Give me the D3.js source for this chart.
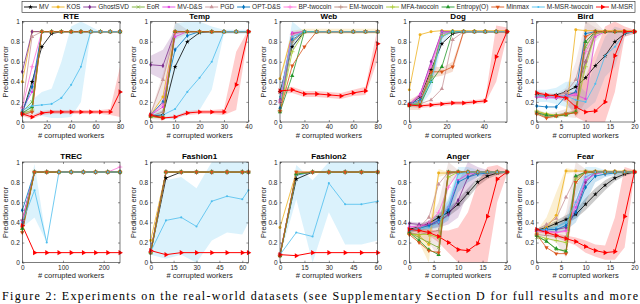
<!DOCTYPE html>
<html><head><meta charset="utf-8">
<script src="https://cdn.jsdelivr.net/npm/d3@7"></script>
<style>body{margin:0;background:#fff}svg{display:block}text{font-family:"Liberation Sans",Arial,Helvetica,sans-serif}</style>
</head><body><svg id="c" width="640" height="304"></svg>
<script>
// ---------- methods ----------
const methods = ["MV","KOS","GhostSVD","EoR","MV-D&S","PGD","OPT-D&S","BP-twocoin","EM-twocoin","MFA-twocoin","Entropy(O)","Minmax","M-MSR-twocoin","M-MSR"];
const methodColors = ["#000000","#EDB120","#7E2F8E","#77AC30","#E046E0","#C8959A","#0072BD","#FF6FD8","#B8867B","#A5C82A","#23962A","#D95319","#4DBEEE","#FF0000"];
const methodMarkers = ["star","circle","diamond","times","square","triangle","diamond","plus","plus","plus","triangle","triangleDown","dot","triangleRight"];
const panelTitles = ["RTE","Temp","Web","Dog","Bird","TREC","Fashion1","Fashion2","Anger","Fear"];
const yTicks = [0,0.2,0.4,0.6,0.8,1];

// ---------- RTE ----------
const rteX = [0,8,16,24,32,40,48,56,64,72,80];
const rteTicks = [0,20,40,60,80];
const rteY = [
 [0.09,0.40,0.75,0.88,0.90,0.90,0.90,0.90,0.90,0.90,0.90],
 [0.40,0.90,0.90,0.90,0.90,0.90,0.90,0.90,0.90,0.90,0.90],
 [0.50,0.90,0.90,0.90,0.90,0.90,0.90,0.90,0.90,0.90,0.90],
 [0.10,0.20,0.90,0.90,0.90,0.90,0.90,0.90,0.90,0.90,0.90],
 [0.12,0.30,0.90,0.90,0.90,0.90,0.90,0.90,0.90,0.90,0.90],
 [0.15,0.85,0.90,0.90,0.90,0.90,0.90,0.90,0.90,0.90,0.90],
 [0.10,0.35,0.90,0.90,0.90,0.90,0.90,0.90,0.90,0.90,0.90],
 [0.14,0.55,0.90,0.90,0.90,0.90,0.90,0.90,0.90,0.90,0.90],
 [0.10,0.10,0.90,0.90,0.90,0.90,0.90,0.90,0.90,0.90,0.90],
 [0.08,0.12,0.90,0.90,0.90,0.90,0.90,0.90,0.90,0.90,0.90],
 [0.09,0.15,0.90,0.90,0.90,0.90,0.90,0.90,0.90,0.90,0.90],
 [0.07,0.10,0.90,0.90,0.90,0.90,0.90,0.90,0.90,0.90,0.90],
 [0.12,0.16,0.17,0.18,0.24,0.37,0.55,0.90,0.90,0.90,0.90],
 [0.08,0.05,0.09,0.10,0.10,0.10,0.10,0.10,0.10,0.10,0.30]
];
const rteBands = [
 [12,[0.06,0.08,0.06,0.04,0.04,0.05,0.20,0.88,0.90,0.90,0.90],[0.18,0.22,0.30,0.33,0.60,0.95,1.00,0.95,0.90,0.90,0.90]],
 [13,[0.06,0.03,0.07,0.08,0.08,0.08,0.08,0.08,0.08,0.07,0.05],[0.10,0.07,0.11,0.12,0.12,0.12,0.12,0.12,0.12,0.13,0.55]]
];

// ---------- Temp ----------
const tempX = [0,5,10,15,20,25,30,35,40];
const tempTicks = [0,10,20,30,40];
const tempY = [
 [0.06,0.07,0.55,0.80,0.89,0.90,0.90,0.90,0.90],
 [0.07,0.25,0.90,0.90,0.90,0.90,0.90,0.90,0.90],
 [0.57,0.56,0.90,0.90,0.90,0.90,0.90,0.90,0.90],
 [0.06,0.05,0.90,0.90,0.90,0.90,0.90,0.90,0.90],
 [0.07,0.15,0.85,0.90,0.90,0.90,0.90,0.90,0.90],
 [0.08,0.42,0.90,0.90,0.90,0.90,0.90,0.90,0.90],
 [0.07,0.20,0.72,0.86,0.90,0.90,0.90,0.90,0.90],
 [0.07,0.18,0.88,0.90,0.90,0.90,0.90,0.90,0.90],
 [0.06,0.10,0.90,0.90,0.90,0.90,0.90,0.90,0.90],
 [0.05,0.05,0.90,0.90,0.90,0.90,0.90,0.90,0.90],
 [0.06,0.04,0.90,0.90,0.90,0.90,0.90,0.90,0.90],
 [0.06,0.04,0.90,0.90,0.90,0.90,0.90,0.90,0.90],
 [0.07,0.07,0.13,0.30,0.44,0.60,0.90,0.90,0.90],
 [0.07,0.04,0.05,0.09,0.10,0.10,0.10,0.37,0.90]
];
const tempBands = [
 [2,[0.48,0.42,0.88,0.90,0.90,0.90,0.90,0.90,0.90],[0.66,0.72,0.92,0.90,0.90,0.90,0.90,0.90,0.90]],
 [8,[0.03,0.02,0.82,0.88,0.90,0.90,0.90,0.90,0.90],[0.10,0.48,1.00,0.92,0.90,0.90,0.90,0.90,0.90]],
 [12,[0.05,0.04,0.02,0.08,0.12,0.32,0.88,0.88,0.88],[0.09,0.12,0.98,1.00,1.00,0.95,0.92,0.92,0.92]],
 [13,[0.05,0.03,0.04,0.07,0.08,0.08,0.07,0.12,0.88],[0.09,0.05,0.06,0.11,0.12,0.12,0.13,0.70,0.92]]
];

// ---------- Web ----------
const webX = [0,10,20,30,40,50,60,70,80];
const webTicks = [0,20,40,60,80];
const webY = [
 [0.30,0.75,0.90,0.90,0.90,0.90,0.90,0.90,0.90],
 [0.43,0.88,0.90,0.90,0.90,0.90,0.90,0.90,0.90],
 [0.22,0.88,0.90,0.90,0.90,0.90,0.90,0.90,0.90],
 [0.12,0.80,0.90,0.90,0.90,0.90,0.90,0.90,0.90],
 [0.22,0.89,0.90,0.90,0.90,0.90,0.90,0.90,0.90],
 [0.20,0.85,0.90,0.90,0.90,0.90,0.90,0.90,0.90],
 [0.14,0.82,0.90,0.90,0.90,0.90,0.90,0.90,0.90],
 [0.20,0.87,0.90,0.90,0.90,0.90,0.90,0.90,0.90],
 [0.11,0.80,0.90,0.90,0.90,0.90,0.90,0.90,0.90],
 [0.11,0.70,0.90,0.90,0.90,0.90,0.90,0.90,0.90],
 [0.10,0.46,0.90,0.90,0.90,0.90,0.90,0.90,0.90],
 [0.11,0.56,0.75,0.90,0.90,0.90,0.90,0.90,0.90],
 [0.25,0.85,0.90,0.90,0.90,0.90,0.90,0.90,0.90],
 [0.31,0.32,0.28,0.28,0.27,0.26,0.29,0.31,0.78]
];
const webBands = [
 [1,[0.40,0.85,0.88,0.88,0.88,0.88,0.88,0.88,0.88],[0.46,0.91,0.93,0.93,0.93,0.93,0.93,0.93,0.93]],
 [12,[0.20,0.72,0.90,0.90,0.90,0.90,0.90,0.90,0.90],[0.30,1.00,0.90,0.90,0.90,0.90,0.90,0.90,0.90]],
 [13,[0.28,0.29,0.25,0.25,0.24,0.23,0.26,0.27,0.62],[0.34,0.35,0.31,0.31,0.30,0.29,0.32,0.35,0.94]]
];

// ---------- Dog ----------
const dogX = [0,5.8,11.7,17.5,23.3,29.2,35,40.8,46.7,52.5];
const dogTicks = [0,20,40];
const dogY = [
 [0.17,0.25,0.52,0.78,0.88,0.90,0.90,0.90,0.90,0.90],
 [0.32,0.87,0.90,0.91,0.91,0.91,0.91,0.91,0.91,0.91],
 [0.17,0.27,0.60,0.90,0.90,0.90,0.90,0.90,0.90,0.90],
 [0.17,0.18,0.45,0.90,0.90,0.90,0.90,0.90,0.90,0.90],
 [0.18,0.28,0.58,0.90,0.90,0.90,0.90,0.90,0.90,0.90],
 [0.17,0.18,0.22,0.33,0.82,0.90,0.90,0.90,0.90,0.90],
 [0.18,0.22,0.45,0.88,0.90,0.90,0.90,0.90,0.90,0.90],
 [0.17,0.26,0.55,0.88,0.90,0.90,0.90,0.90,0.90,0.90],
 [0.17,0.20,0.45,0.85,0.90,0.90,0.90,0.90,0.90,0.90],
 [0.16,0.19,0.45,0.86,0.90,0.90,0.90,0.90,0.90,0.90],
 [0.17,0.17,0.40,0.55,0.90,0.90,0.90,0.90,0.90,0.90],
 [0.17,0.20,0.50,0.50,0.55,0.90,0.90,0.90,0.90,0.90],
 [0.17,0.20,0.40,0.85,0.90,0.90,0.90,0.90,0.90,0.90],
 [0.17,0.16,0.17,0.18,0.19,0.19,0.20,0.21,0.65,0.90]
];
const dogBands = [
 [11,[0.12,0.12,0.44,0.46,0.50,0.88,0.90,0.90,0.90,0.90],[0.22,0.28,0.56,0.54,0.60,0.92,0.90,0.90,0.90,0.90]],
 [12,[0.15,0.15,0.30,0.78,0.90,0.90,0.90,0.90,0.90,0.90],[0.19,0.25,0.52,0.92,0.90,0.90,0.90,0.90,0.90,0.90]],
 [13,[0.15,0.14,0.15,0.16,0.17,0.17,0.18,0.19,0.40,0.86],[0.19,0.18,0.19,0.20,0.21,0.21,0.22,0.23,0.96,0.94]]
];

// ---------- Bird ----------
const birdX = [0,2,4,6,8,10,12,14,16,18,20];
const birdTicks = [0,5,10,15,20];
const birdY = [
 [0.27,0.26,0.27,0.30,0.35,0.44,0.56,0.66,0.80,0.88,0.90],
 [0.10,0.08,0.06,0.07,0.92,0.91,0.91,0.91,0.91,0.91,0.91],
 [0.25,0.25,0.24,0.26,0.29,0.60,0.88,0.90,0.90,0.90,0.90],
 [0.09,0.05,0.06,0.08,0.10,0.75,0.90,0.90,0.90,0.90,0.90],
 [0.25,0.24,0.24,0.25,0.27,0.23,0.85,0.90,0.90,0.90,0.90],
 [0.27,0.26,0.26,0.30,0.42,0.80,0.90,0.90,0.90,0.90,0.90],
 [0.16,0.15,0.15,0.26,0.30,0.88,0.90,0.90,0.90,0.90,0.90],
 [0.25,0.24,0.25,0.26,0.28,0.70,0.88,0.90,0.90,0.90,0.90],
 [0.10,0.06,0.07,0.09,0.11,0.60,0.90,0.90,0.90,0.90,0.90],
 [0.11,0.08,0.07,0.08,0.10,0.55,0.88,0.90,0.90,0.90,0.90],
 [0.09,0.07,0.06,0.07,0.10,0.80,0.90,0.90,0.90,0.90,0.90],
 [0.08,0.04,0.06,0.08,0.09,0.85,0.90,0.90,0.90,0.90,0.90],
 [0.26,0.26,0.26,0.26,0.22,0.20,0.38,0.66,0.75,0.88,0.90],
 [0.29,0.27,0.26,0.24,0.15,0.10,0.11,0.20,0.66,0.90,0.90]
];
const birdBands = [
 [5,[0.25,0.24,0.24,0.26,0.25,0.55,0.86,0.90,0.90,0.90,0.90],[0.29,0.28,0.28,0.34,0.60,1.00,0.94,0.90,0.90,0.90,0.90]],
 [8,[0.07,0.03,0.04,0.05,0.04,0.20,0.80,0.90,0.90,0.90,0.90],[0.13,0.09,0.10,0.13,0.30,1.00,1.00,0.90,0.90,0.90,0.90]],
 [12,[0.20,0.20,0.18,0.15,0.12,0.12,0.20,0.45,0.55,0.85,0.88],[0.32,0.32,0.34,0.40,0.40,0.30,0.60,0.85,0.95,0.92,0.92]],
 [13,[0.27,0.25,0.24,0.20,0.05,0.00,0.00,0.00,0.30,0.85,0.88],[0.31,0.29,0.28,0.30,0.30,0.45,0.70,0.95,1.00,0.95,0.92]]
];

// ---------- TREC ----------
const trecX = [0,30,60,90,120,150,180,210,240];
const trecTicks = [0,100,200];
const trecY = [
 [0.42,0.90,0.90,0.90,0.90,0.90,0.90,0.90,0.90],
 [0.35,0.90,0.90,0.90,0.90,0.90,0.90,0.90,0.90],
 [0.40,0.90,0.90,0.90,0.90,0.90,0.90,0.90,0.90],
 [0.32,0.90,0.90,0.90,0.90,0.90,0.90,0.90,0.90],
 [0.40,0.90,0.90,0.90,0.90,0.90,0.90,0.90,0.90],
 [0.38,0.90,0.90,0.90,0.90,0.90,0.90,0.90,0.90],
 [0.52,0.90,0.90,0.90,0.90,0.90,0.90,0.90,0.90],
 [0.42,0.90,0.90,0.90,0.90,0.90,0.90,0.90,0.95],
 [0.36,0.90,0.90,0.90,0.90,0.90,0.90,0.90,0.90],
 [0.33,0.90,0.90,0.90,0.90,0.90,0.90,0.90,0.90],
 [0.34,0.90,0.90,0.90,0.90,0.90,0.90,0.90,0.90],
 [0.30,0.90,0.90,0.90,0.90,0.90,0.90,0.90,0.90],
 [0.40,0.72,0.20,0.90,0.90,0.90,0.90,0.90,0.90],
 [0.37,0.10,0.10,0.10,0.10,0.10,0.10,0.10,0.10]
];
const trecBands = [
 [12,[0.35,0.45,0.20,0.90,0.90,0.90,0.90,0.90,0.90],[0.45,0.98,0.20,0.90,0.90,0.90,0.90,0.90,0.90]]
];

// ---------- Fashion1 ----------
const fash1X = [0,10,20,30,40,50,60,64];
const fash1Ticks = [0,15,30,45,60];
const fash1Y = [
 [0.10,0.84,0.90,0.90,0.90,0.90,0.90,0.90],
 [0.22,0.90,0.90,0.90,0.90,0.90,0.90,0.90],
 [0.11,0.90,0.90,0.90,0.90,0.90,0.90,0.90],
 [0.10,0.90,0.90,0.90,0.90,0.90,0.90,0.90],
 [0.11,0.90,0.90,0.90,0.90,0.90,0.90,0.90],
 [0.12,0.90,0.90,0.90,0.90,0.90,0.90,0.90],
 [0.11,0.90,0.90,0.90,0.90,0.90,0.90,0.90],
 [0.11,0.90,0.90,0.90,0.90,0.90,0.90,0.90],
 [0.10,0.90,0.90,0.90,0.90,0.90,0.90,0.90],
 [0.10,0.90,0.90,0.90,0.90,0.90,0.90,0.90],
 [0.10,0.90,0.90,0.90,0.90,0.90,0.90,0.90],
 [0.10,0.90,0.90,0.90,0.90,0.90,0.90,0.90],
 [0.11,0.42,0.45,0.36,0.61,0.66,0.63,0.72],
 [0.12,0.08,0.10,0.10,0.10,0.10,0.10,0.10]
];
const fash1Bands = [
 [12,[0.08,0.04,0.08,0.00,0.22,0.30,0.28,0.40],[0.14,0.82,0.85,0.74,1.00,1.00,1.00,1.00]]
];

// ---------- Fashion2 ----------
const fash2X = [0,10,20,30,40,50,60];
const fash2Ticks = [0,15,30,45,60];
const fash2Y = [
 [0.08,0.83,0.90,0.90,0.90,0.90,0.90],
 [0.35,0.90,0.90,0.90,0.90,0.90,0.90],
 [0.08,0.88,0.90,0.90,0.90,0.90,0.90],
 [0.07,0.88,0.90,0.90,0.90,0.90,0.90],
 [0.08,0.88,0.90,0.90,0.90,0.90,0.90],
 [0.09,0.88,0.90,0.90,0.90,0.90,0.90],
 [0.08,0.87,0.90,0.90,0.90,0.90,0.90],
 [0.08,0.88,0.90,0.90,0.90,0.90,0.90],
 [0.07,0.88,0.90,0.90,0.90,0.90,0.90],
 [0.07,0.88,0.90,0.90,0.90,0.90,0.90],
 [0.07,0.88,0.90,0.90,0.90,0.90,0.90],
 [0.07,0.90,0.90,0.90,0.90,0.90,0.90],
 [0.08,0.30,0.26,0.79,0.58,0.58,0.61],
 [0.08,0.07,0.10,0.10,0.10,0.10,0.10]
];
const fash2Bands = [
 [12,[0.06,0.63,0.00,0.50,0.18,0.18,0.22],[0.10,0.97,0.82,1.00,1.00,1.00,1.00]]
];

// ---------- Anger ----------
const angerX = [0,2,4,6,8,10,12,14,16,18,20];
const angerTicks = [0,5,10,15,20];
const angerY = [
 [0.33,0.36,0.39,0.45,0.50,0.58,0.69,0.80,0.86,0.89,0.90],
 [0.30,0.27,0.18,0.89,0.89,0.90,0.90,0.90,0.90,0.90,0.90],
 [0.39,0.38,0.37,0.40,0.48,0.62,0.85,0.90,0.90,0.90,0.90],
 [0.30,0.25,0.20,0.15,0.90,0.90,0.90,0.90,0.90,0.90,0.90],
 [0.36,0.36,0.38,0.42,0.55,0.82,0.88,0.90,0.90,0.90,0.90],
 [0.32,0.35,0.45,0.78,0.90,0.90,0.90,0.90,0.90,0.90,0.90],
 [0.32,0.34,0.37,0.42,0.52,0.80,0.85,0.88,0.89,0.90,0.90],
 [0.35,0.36,0.40,0.50,0.75,0.90,0.90,0.90,0.90,0.90,0.90],
 [0.30,0.28,0.30,0.32,0.88,0.90,0.90,0.90,0.90,0.90,0.90],
 [0.28,0.28,0.28,0.25,0.85,0.90,0.90,0.90,0.90,0.90,0.90],
 [0.30,0.22,0.13,0.08,0.90,0.90,0.90,0.90,0.90,0.90,0.90],
 [0.28,0.20,0.12,0.10,0.90,0.90,0.90,0.90,0.90,0.90,0.90],
 [0.32,0.33,0.35,0.40,0.55,0.88,0.90,0.90,0.90,0.90,0.90],
 [0.33,0.32,0.30,0.26,0.20,0.13,0.12,0.19,0.46,0.83,0.90]
];
const angerBands = [
 [0,[0.31,0.34,0.36,0.41,0.46,0.53,0.64,0.76,0.83,0.87,0.89],[0.35,0.38,0.42,0.49,0.54,0.63,0.74,0.84,0.89,0.91,0.91]],
 [1,[0.28,0.20,0.00,0.85,0.88,0.90,0.90,0.90,0.90,0.90,0.90],[0.32,0.34,0.36,0.93,0.90,0.90,0.90,0.90,0.90,0.90,0.90]],
 [2,[0.37,0.36,0.34,0.35,0.38,0.45,0.70,0.85,0.88,0.90,0.90],[0.41,0.40,0.40,0.45,0.58,0.80,1.00,0.95,0.92,0.90,0.90]],
 [6,[0.30,0.32,0.33,0.36,0.42,0.70,0.80,0.85,0.87,0.89,0.90],[0.34,0.36,0.41,0.48,0.62,0.90,0.90,0.91,0.91,0.91,0.90]],
 [8,[0.28,0.24,0.20,0.05,0.75,0.88,0.90,0.90,0.90,0.90,0.90],[0.32,0.32,0.40,0.60,1.00,0.92,0.90,0.90,0.90,0.90,0.90]],
 [12,[0.30,0.31,0.32,0.35,0.45,0.80,0.88,0.90,0.90,0.90,0.90],[0.34,0.35,0.38,0.45,0.65,0.95,0.95,0.92,0.90,0.90,0.90]],
 [13,[0.31,0.30,0.27,0.20,0.10,0.00,0.00,0.00,0.00,0.60,0.88],[0.35,0.34,0.33,0.32,0.32,0.35,0.50,0.80,0.95,0.97,0.92]]
];

// ---------- Fear ----------
const fearX = [0,2,4,6,8,10,12,14,16,18,20];
const fearTicks = [0,5,10,15,20];
const fearY = [
 [0.32,0.35,0.39,0.43,0.48,0.58,0.68,0.77,0.84,0.88,0.90],
 [0.30,0.35,0.47,0.91,0.91,0.91,0.91,0.91,0.91,0.91,0.91],
 [0.32,0.33,0.33,0.35,0.50,0.80,0.90,0.90,0.90,0.90,0.90],
 [0.25,0.22,0.13,0.12,0.80,0.90,0.90,0.90,0.90,0.90,0.90],
 [0.32,0.32,0.30,0.32,0.55,0.82,0.88,0.90,0.90,0.90,0.90],
 [0.33,0.38,0.44,0.65,0.85,0.90,0.90,0.90,0.90,0.90,0.90],
 [0.32,0.33,0.33,0.37,0.50,0.75,0.86,0.88,0.89,0.90,0.90],
 [0.31,0.30,0.30,0.31,0.60,0.85,0.90,0.90,0.90,0.90,0.90],
 [0.28,0.27,0.26,0.25,0.85,0.90,0.90,0.90,0.90,0.90,0.90],
 [0.27,0.24,0.22,0.20,0.83,0.90,0.90,0.90,0.90,0.90,0.90],
 [0.27,0.21,0.14,0.11,0.86,0.90,0.90,0.90,0.90,0.90,0.90],
 [0.28,0.15,0.09,0.09,0.80,0.90,0.90,0.90,0.90,0.90,0.90],
 [0.32,0.33,0.35,0.40,0.60,0.85,0.90,0.90,0.90,0.90,0.90],
 [0.33,0.30,0.27,0.24,0.21,0.16,0.12,0.10,0.11,0.46,0.90]
];
const fearBands = [
 [0,[0.30,0.33,0.36,0.39,0.44,0.52,0.62,0.72,0.81,0.86,0.89],[0.34,0.37,0.42,0.47,0.52,0.64,0.74,0.82,0.87,0.90,0.91]],
 [1,[0.28,0.30,0.30,0.88,0.90,0.90,0.90,0.90,0.90,0.90,0.90],[0.32,0.45,0.70,0.94,0.92,0.90,0.90,0.90,0.90,0.90,0.90]],
 [6,[0.30,0.31,0.30,0.32,0.40,0.60,0.80,0.85,0.87,0.89,0.90],[0.34,0.35,0.36,0.42,0.60,0.90,0.92,0.91,0.91,0.91,0.90]],
 [8,[0.26,0.24,0.20,0.05,0.65,0.88,0.90,0.90,0.90,0.90,0.90],[0.30,0.30,0.32,0.50,1.00,0.93,0.90,0.90,0.90,0.90,0.90]],
 [12,[0.30,0.31,0.32,0.35,0.45,0.75,0.88,0.90,0.90,0.90,0.90],[0.34,0.35,0.38,0.45,0.75,0.95,0.95,0.92,0.90,0.90,0.90]],
 [13,[0.31,0.28,0.25,0.21,0.17,0.10,0.06,0.03,0.03,0.15,0.88],[0.35,0.32,0.29,0.27,0.25,0.22,0.18,0.17,0.45,0.95,0.92]]
];

const captionText = "Figure 2:  Experiments on the real-world datasets (see Supplementary Section D for full results and more";

// ---------- assemble ----------
const panels = [
 {x:rteX, y:rteY, bands:rteBands, ticks:rteTicks, max:80},
 {x:tempX, y:tempY, bands:tempBands, ticks:tempTicks, max:40},
 {x:webX, y:webY, bands:webBands, ticks:webTicks, max:80},
 {x:dogX, y:dogY, bands:dogBands, ticks:dogTicks, max:52.5},
 {x:birdX, y:birdY, bands:birdBands, ticks:birdTicks, max:20},
 {x:trecX, y:trecY, bands:trecBands, ticks:trecTicks, max:240},
 {x:fash1X, y:fash1Y, bands:fash1Bands, ticks:fash1Ticks, max:64},
 {x:fash2X, y:fash2Y, bands:fash2Bands, ticks:fash2Ticks, max:60},
 {x:angerX, y:angerY, bands:angerBands, ticks:angerTicks, max:20},
 {x:fearX, y:fearY, bands:fearBands, ticks:fearTicks, max:20}
];

const svg = d3.select("#c");
const PW = 97.7;
const colLeft = [22.3,150.7,280,409.3,536.7];
const rowTop = [21.6,162], rowBottom = [122,262.7];
const axisColor = "#262626";

function drawMarker(g, m, cx, cy) {
  const type = methodMarkers[m], col = methodColors[m];
  let sym, size = 8, fill = col, stroke = "none", rot = 0;
  switch (type) {
    case "star": sym = d3.symbolStar; size = 7; break;
    case "circle": sym = d3.symbolCircle; size = 7; break;
    case "diamond": sym = d3.symbolDiamond; size = 7; break;
    case "times": sym = d3.symbolTimes; size = 8; fill="none"; stroke=col; break;
    case "square": sym = d3.symbolSquare; size = 5; break;
    case "triangle": sym = d3.symbolTriangle; size = 8; break;
    case "plus": sym = d3.symbolPlus; size = 8; fill="none"; stroke=col; break;
    case "triangleDown": sym = d3.symbolTriangle; size = 8; rot = 180; break;
    case "dot": sym = d3.symbolCircle; size = 3.5; break;
    case "triangleRight": sym = d3.symbolTriangle; size = 11; rot = 90; break;
  }
  g.append("path").attr("d", d3.symbol(sym, size)())
    .attr("transform", `translate(${cx},${cy}) rotate(${rot})`)
    .attr("fill", fill).attr("stroke", stroke).attr("stroke-width", 0.7);
}

panels.forEach((p, k) => {
  const row = k < 5 ? 0 : 1, col = k % 5;
  const left = colLeft[col], top = rowTop[row], bottom = rowBottom[row];
  const x = d3.scaleLinear().domain([0, p.max]).range([left, left + PW]);
  const y = d3.scaleLinear().domain([0, 1]).range([bottom, top]);
  const g = svg.append("g");
  const cid = "clip" + k;
  svg.append("clipPath").attr("id", cid).append("rect")
    .attr("x", left).attr("y", top).attr("width", PW).attr("height", bottom - top);
  const plot = g.append("g").attr("clip-path", `url(#${cid})`);
  p.bands.forEach(([m, lo, hi]) => {
    const area = d3.area().x((d, i) => x(p.x[i])).y0((d, i) => y(lo[i])).y1((d, i) => y(hi[i]));
    plot.append("path").datum(lo).attr("d", area)
      .attr("fill", methodColors[m]).attr("fill-opacity", 0.2).attr("stroke", "none");
  });
  p.y.forEach((vals, m) => {
    const line = d3.line().x((d, i) => x(p.x[i])).y(d => y(d));
    plot.append("path").datum(vals).attr("d", line).attr("fill", "none")
      .attr("stroke", methodColors[m]).attr("stroke-width", m === 13 ? 1 : 0.8)
      .attr("stroke-linejoin", "round");
    vals.forEach((v, i) => drawMarker(g, m, x(p.x[i]), y(v)));
  });
  // axes
  const fmt = d => d === 0 ? "0" : d === 1 ? "1" : d3.format(".1f")(d);
  const ax = [
    g.append("g").attr("transform", `translate(0,${bottom})`)
      .call(d3.axisBottom(x).tickValues(p.ticks).tickSizeInner(-2).tickSizeOuter(0).tickPadding(2.5)),
    g.append("g").attr("transform", `translate(0,${top})`)
      .call(d3.axisTop(x).tickValues(p.ticks).tickSizeInner(-2).tickSizeOuter(0).tickFormat("")),
    g.append("g").attr("transform", `translate(${left},0)`)
      .call(d3.axisLeft(y).tickValues(yTicks).tickFormat(fmt).tickSizeInner(-2).tickSizeOuter(0).tickPadding(2.5)),
    g.append("g").attr("transform", `translate(${left + PW},0)`)
      .call(d3.axisRight(y).tickValues(yTicks).tickSizeInner(-2).tickSizeOuter(0).tickFormat(""))
  ];
  ax.forEach(a => {
    a.select(".domain").remove();
    a.selectAll("line").attr("stroke", axisColor).attr("stroke-width", 0.5);
    a.selectAll("text").attr("fill", axisColor).style("font-size", "6.5px")
      .style("font-family", '"Liberation Sans",Arial,sans-serif');
  });
  g.append("rect").attr("x", left).attr("y", top).attr("width", PW).attr("height", bottom - top)
    .attr("fill", "none").attr("stroke", axisColor).attr("stroke-width", 0.6);
  g.append("text").attr("x", left + PW / 2).attr("y", top - 3).attr("text-anchor", "middle")
    .style("font-size", "8px").style("font-weight", "bold").attr("fill", "#000").text(panelTitles[k]);
  g.append("text").attr("transform", `translate(${left - 14.5},${(top + bottom) / 2}) rotate(-90)`)
    .attr("text-anchor", "middle").style("font-size", "7.5px").attr("fill", axisColor).text("Prediction error");
  g.append("text").attr("x", left + PW / 2).attr("y", bottom + 15.5).attr("text-anchor", "middle")
    .style("font-size", "7.5px").attr("fill", axisColor).text("# corrupted workers");
});

// legend
const leg = svg.append("g");
const legL = 22, legR = 635, legT = 1.5, legH = 11;
leg.append("rect").attr("x", legL).attr("y", legT).attr("width", legR - legL).attr("height", legH)
  .attr("fill", "#fff").attr("stroke", axisColor).attr("stroke-width", 0.6);
const lineLen = 13, txtGap = 2;
const texts = methods.map(mn => leg.append("text").style("font-size", "6.5px").attr("fill", axisColor).attr("y", legT + legH / 2 + 2.3).text(mn));
const widths = texts.map(t => t.node().getComputedTextLength());
const total = d3.sum(widths) + methods.length * (lineLen + txtGap);
const gap = (legR - legL - 4 - total) / (methods.length - 1);
let cx = legL + 2;
methods.forEach((mn, m) => {
  const cy = legT + legH / 2;
  leg.append("line").attr("x1", cx).attr("x2", cx + lineLen).attr("y1", cy).attr("y2", cy)
    .attr("stroke", methodColors[m]).attr("stroke-width", 0.9);
  drawMarker(leg, m, cx + lineLen / 2, cy);
  texts[m].attr("x", cx + lineLen + txtGap);
  cx += lineLen + txtGap + widths[m] + gap;
});

// caption
svg.append("text").attr("x", 2).attr("y", 299.5)
  .style("font-family", '"Liberation Serif","Times New Roman",serif').style("font-size", "12px")
  .attr("textLength", 636).attr("lengthAdjust", "spacing").attr("fill", "#000").text(captionText);
</script></body></html>
